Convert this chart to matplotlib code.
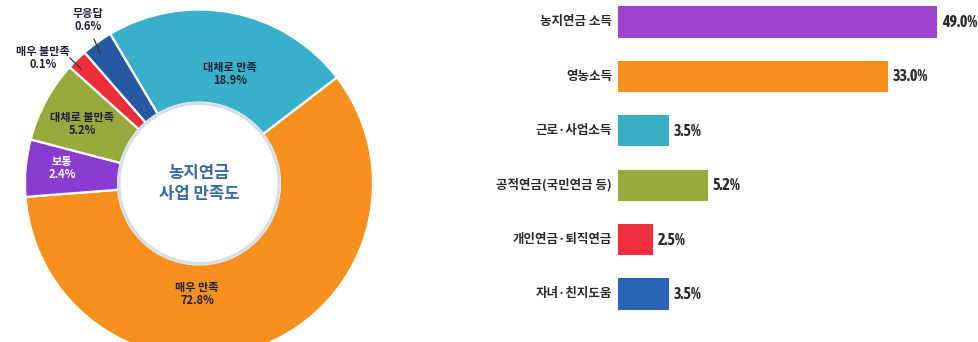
import matplotlib
matplotlib.use("Agg")
import matplotlib.pyplot as plt
from matplotlib.patches import Circle
from matplotlib import font_manager

# ---------------- data ----------------
# donut (slice sizes as drawn in the picture, labels as printed)
pie_categories = ["대체로 만족", "매우 만족", "보통", "대체로 불만족", "매우 불만족", "무응답"]
pie_sizes = [23.1, 59.2, 5.3, 7.6, 1.9, 2.9]
pie_labels = ["18.9%", "72.8%", "2.4%", "5.2%", "0.1%", "0.6%"]
pie_colors = ["#3aafc9", "#f7911d", "#8a3cd0", "#97a83c", "#ee2d3a", "#26599f"]
center_title = "농지연금\n사업 만족도"

# bars (lengths as drawn, labels as printed)
bar_categories = ["농지연금 소득", "영농소득", "근로·사업소득", "공적연금(국민연금 등)",
                  "개인연금·퇴직연금", "자녀·친지도움"]
bar_lengths = [49.0, 41.5, 7.8, 13.8, 5.4, 7.8]
bar_labels = ["49.0%", "33.0%", "3.5%", "5.2%", "2.5%", "3.5%"]
bar_colors = ["#9e43cf", "#f8901d", "#39aec7", "#99a93b", "#ef2f3d", "#2a64b3"]

# ---------------- fonts ----------------
entries = font_manager.fontManager.ttflist
narrow_bold = sorted({f.name for f in entries
                      if ("Narrow" in f.name or "Condensed" in f.name)
                      and (f.weight in ("bold", 700, "heavy", 800, 600, "semibold", "demibold")
                           or (isinstance(f.weight, int) and f.weight >= 600))})
narrow_any = sorted({f.name for f in entries if ("Narrow" in f.name or "Condensed" in f.name)})
if narrow_bold:
    NUM_FAMILY = [narrow_bold[0], "DejaVu Sans"]
    NUM_SIZE = 11.5
elif narrow_any:
    NUM_FAMILY = [narrow_any[0], "DejaVu Sans"]
    NUM_SIZE = 11.5
else:
    NUM_FAMILY = ["Liberation Sans", "DejaVu Sans"]
    NUM_SIZE = 8.5

# ---------------- figure ----------------
W, H = 979, 342
fig = plt.figure(figsize=(W / 100, H / 100), dpi=100)
fig.patch.set_facecolor("white")

KR = ["Noto Sans CJK KR", "DejaVu Sans"]

# ---- donut ----
cx, cy, R = 199, 183.5, 174
ax = fig.add_axes([(cx - R) / W, (H - cy - R) / H, 2 * R / W, 2 * R / H])
hole = 0.465
wedges, _ = ax.pie(pie_sizes, colors=pie_colors, startangle=120.7, counterclock=False,
                   radius=1.0, wedgeprops=dict(width=1 - hole, edgecolor="white", linewidth=1.6))
ax.set_xlim(-1, 1)
ax.set_ylim(-1, 1)
ax.axis("off")
for w in wedges:
    w.set_clip_on(False)
ax.add_patch(Circle((0, 0), hole - 0.005, facecolor="white", edgecolor="#d3dfec", lw=2.2, zorder=5))
ax.text(0, 0, center_title, ha="center", va="center", fontsize=12, fontweight="bold",
        color="#3b6a9d", family=KR, linespacing=1.2, zorder=6)


def p2d(px, py):
    return ((px - cx) / R, (cy - py) / R)


label_pos = [(230, 74), (197, 294), (62, 168), (82, 124), (43, 58), (88, 20)]
label_col = ["#1c1f33", "#1c1f33", "white", "#1c1f33", "#1c1f33", "#1c1f33"]
for cat, lab, pos, col in zip(pie_categories, pie_labels, label_pos, label_col):
    x, y = p2d(*pos)
    ax.text(x, y, f"{cat}\n{lab}", ha="center", va="center", fontsize=8, color=col,
            family=KR, fontweight="bold", linespacing=1.1, zorder=7, clip_on=False)

# leader lines for small slices
for (x0, y0), (x1, y1) in [((70, 58), (81, 69)), ((94, 39), (100, 53))]:
    a = p2d(x0, y0)
    b = p2d(x1, y1)
    ax.plot([a[0], b[0]], [a[1], b[1]], color="#333333", lw=0.9, clip_on=False, zorder=7)

# ---- bars ----
bx0 = 618
bax = fig.add_axes([bx0 / W, 0, (W - bx0) / W, 1])
px_per_unit = 319 / 49.0
bax.set_xlim(0, (W - bx0) / px_per_unit)
y0, dy = 22, 54.4
bax.set_ylim((H - y0) / dy, -y0 / dy)
bax.axis("off")
ys = list(range(len(bar_categories)))
bax.barh(ys, bar_lengths, height=0.57, color=bar_colors, edgecolor="none")
for yi, ln, lab, cat in zip(ys, bar_lengths, bar_labels, bar_categories):
    bax.text(ln + 5 / px_per_unit, yi, lab, ha="left", va="center", fontsize=NUM_SIZE,
             fontweight="bold", color="#2a2a2a", family=NUM_FAMILY, clip_on=False)
    bax.text(-6 / px_per_unit, yi, cat, ha="right", va="center", fontsize=9,
             fontweight="bold", color="#2a2a2a", family=KR, clip_on=False)

fig.savefig("out.png", dpi=100, facecolor="white")
